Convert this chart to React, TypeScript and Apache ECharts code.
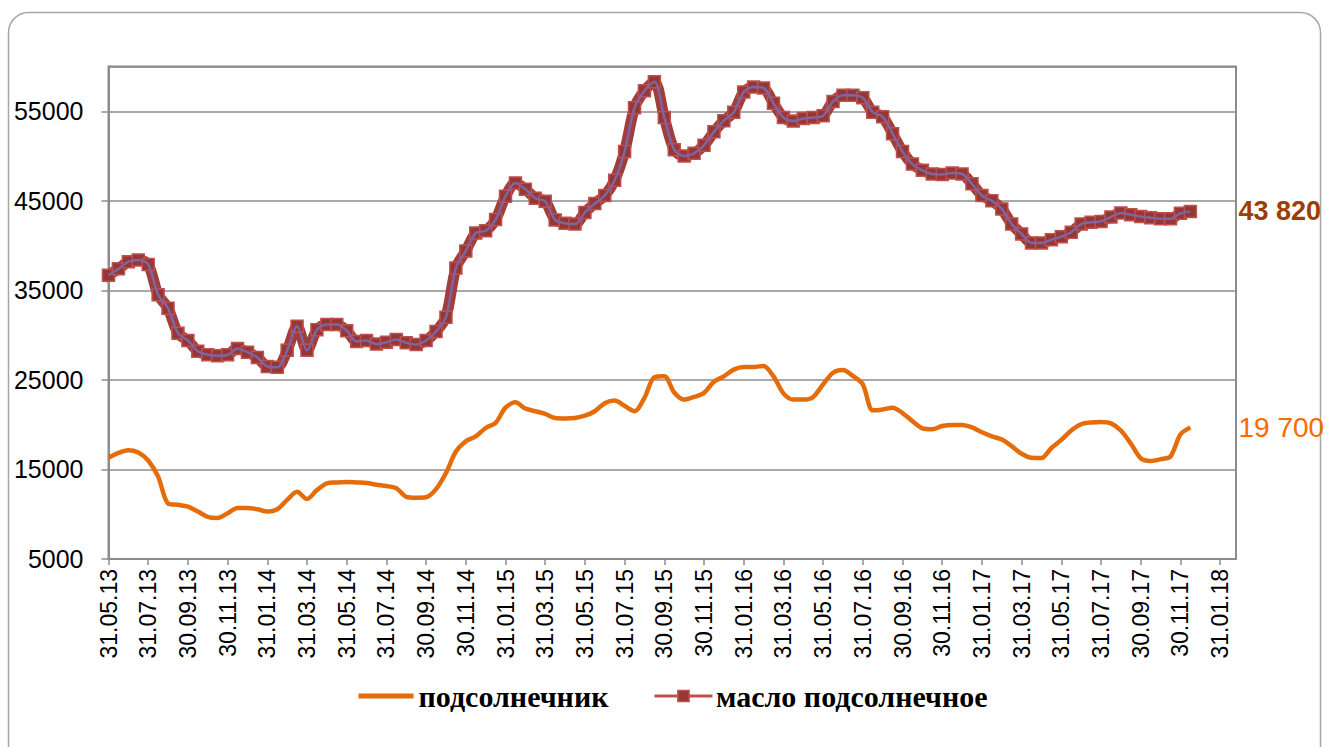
import React, { useEffect, useRef } from 'react';
import * as echarts from 'echarts';

// Tick labels of the date axis (every 2 months starting 31.05.13)
const tickLabels = [
  '31.05.13', '31.07.13', '30.09.13', '30.11.13', '31.01.14', '31.03.14', '31.05.14', '31.07.14',
  '30.09.14', '30.11.14', '31.01.15', '31.03.15', '31.05.15', '31.07.15', '30.09.15', '30.11.15',
  '31.01.16', '31.03.16', '31.05.16', '31.07.16', '30.09.16', '30.11.16', '31.01.17', '31.03.17',
  '31.05.17', '31.07.17', '30.09.17', '30.11.17', '31.01.18',
];

const seedName = 'подсолнечник';
const oilName = 'масло подсолнечное';

// Semi-monthly observations from 31.05.13
const seedValues = [
  16300, 16850, 17150, 16900, 16000, 14200, 11200, 11050, 10850, 10300,
  9700, 9580, 10100, 10700, 10700, 10550, 10300, 10550, 11600, 12500,
  11700, 12700, 13450, 13550, 13600, 13550, 13490, 13300, 13150, 12900,
  11950, 11850, 11900, 12800, 14600, 17000, 18150, 18700, 19630, 20200,
  21900, 22500, 21800, 21500, 21200, 20750, 20700, 20750, 21000, 21500,
  22400, 22700, 22100, 21500, 23000, 25300, 25400, 23600, 22800, 23100,
  23550, 24800, 25400, 26150, 26450, 26450, 26560, 25400, 23500, 22800,
  22800, 23100, 24500, 25800, 26100, 25450, 24500, 21600, 21700, 21900,
  21300, 20400, 19600, 19500, 19850, 19970, 19970, 19700, 19150, 18700,
  18350, 17600, 16750, 16300, 16280, 17400, 18300, 19350, 20050, 20250,
  20300, 20150, 19350, 17900, 16250, 15950, 16150, 16450, 18900, 19700,
];

const oilValues = [
  36700, 37400, 38200, 38400, 37900, 34500, 33000, 30200, 29400, 28200,
  27800, 27700, 27800, 28500, 28100, 27500, 26500, 26400, 28300, 31000,
  28300, 30600, 31200, 31200, 30500, 29300, 29400, 29000, 29200, 29500,
  29150, 28950, 29400, 30400, 32000, 37500, 39400, 41400, 41650, 42900,
  45500, 47000, 46300, 45300, 44950, 42870, 42500, 42400, 43700, 44700,
  45600, 47300, 50500, 55400, 57300, 58300, 54300, 50700, 50000, 50300,
  51200, 52700, 53950, 54900, 57150, 57700, 57600, 55900, 54300, 53900,
  54200, 54300, 54500, 56100, 56800, 56800, 56500, 54900, 54400, 52500,
  50500, 49100, 48400, 48000, 47950, 48100, 48000, 46900, 45600, 45000,
  44100, 42400, 41300, 40300, 40300, 40650, 41000, 41500, 42400, 42600,
  42700, 43200, 43650, 43450, 43250, 43100, 43000, 43000, 43600, 43820,
];

const MONTHS_PER_POINT = 0.5;
const MONTHS_PER_TICK = 2;
const X_MAX = 56.8;

const fmtThousands = (v: number) => String(v).replace(/\B(?=(\d{3})+(?!\d))/g, ' ');

export default function App() {
  const ref = useRef<HTMLDivElement>(null);

  useEffect(() => {
    if (!ref.current) return;
    const chart = echarts.init(ref.current, null, { renderer: 'svg' });
    const toPoints = (arr: number[]) => arr.map((v, i) => [i * MONTHS_PER_POINT, v]);
    const tickVals = tickLabels.map((_, i) => i * MONTHS_PER_TICK);
    const lastSeed = seedValues[seedValues.length - 1];
    const lastOil = oilValues[oilValues.length - 1];
    const sans = 'Liberation Sans, Arial, sans-serif';

    chart.setOption({
      animation: false,
      backgroundColor: '#ffffff',
      textStyle: { fontFamily: sans },
      graphic: [
        {
          type: 'rect',
          z: -10,
          silent: true,
          shape: { x: 8.5, y: 12.5, width: 1312, height: 800, r: 20 },
          style: { fill: 'none', stroke: '#a6a6a6', lineWidth: 1.5 },
        },
      ],
      grid: {
        left: 108.5,
        right: 89,
        top: 66.5,
        bottom: 188,
        show: true,
        borderColor: '#8c8c8c',
        borderWidth: 2,
        backgroundColor: 'transparent',
        outerBoundsMode: 'none',
      },
      legend: {
        left: 351,
        top: 676,
        padding: 5,
        itemWidth: 55,
        itemHeight: 14,
        itemGap: 46,
        textStyle: {
          fontFamily: 'Liberation Serif, Times New Roman, serif',
          fontWeight: 'bold',
          fontSize: 30,
          color: '#000000',
        },
        data: [
          {
            name: seedName,
            itemStyle: { opacity: 0 },
            lineStyle: { color: '#E46C0A', width: 5, opacity: 1 },
          },
          {
            name: oilName,
            lineStyle: { color: '#C0504D', width: 3, opacity: 1 },
            itemStyle: { color: '#953735', borderColor: '#C0504D', borderWidth: 1.5 },
          },
        ],
      },
      xAxis: {
        type: 'value',
        min: 0,
        max: X_MAX,
        splitLine: { show: false },
        axisLine: { show: true, lineStyle: { color: '#8c8c8c', width: 2 } },
        axisTick: {
          show: true,
          customValues: tickVals,
          length: 6,
          lineStyle: { color: '#8c8c8c', width: 1.5 },
        },
        axisLabel: {
          customValues: tickVals,
          rotate: 90,
          margin: 10,
          fontSize: 23,
          color: '#000000',
          fontFamily: sans,
          formatter: (v: number) => tickLabels[Math.round(v / MONTHS_PER_TICK)] ?? '',
        },
      },
      yAxis: {
        type: 'value',
        min: 5000,
        max: 60000,
        interval: 10000,
        axisLine: { show: true, lineStyle: { color: '#8c8c8c', width: 2 } },
        axisTick: { show: true, length: 7, lineStyle: { color: '#8c8c8c', width: 1.5 } },
        splitLine: { show: true, lineStyle: { color: '#8c8c8c', width: 1.5 } },
        axisLabel: {
          showMaxLabel: false,
          margin: 25,
          fontSize: 25,
          color: '#000000',
          fontFamily: sans,
          formatter: (v: number) => String(v),
        },
      },
      series: [
        {
          name: seedName,
          type: 'line',
          data: toPoints(seedValues),
          symbol: 'none',
          smooth: 0.3,
          z: 3,
          lineStyle: { color: '#E46C0A', width: 4.5 },
          itemStyle: { color: '#E46C0A' },
          markPoint: {
            symbol: 'circle',
            symbolSize: 1,
            itemStyle: { color: 'rgba(0,0,0,0)' },
            label: {
              show: true,
              position: 'right',
              distance: 2,
              fontSize: 28,
              color: '#FF6A00',
              fontFamily: sans,
              formatter: () => fmtThousands(lastSeed),
            },
            data: [{ coord: [X_MAX, lastSeed] }],
          },
        },
        {
          name: oilName,
          type: 'line',
          data: toPoints(oilValues),
          symbol: 'rect',
          symbolSize: 12,
          showAllSymbol: true,
          smooth: 0.3,
          z: 4,
          lineStyle: { color: '#A03E3C', width: 11, opacity: 1, join: 'round', cap: 'square' },
          itemStyle: { color: '#953735', borderColor: '#C0504D', borderWidth: 1.5 },
          markPoint: {
            symbol: 'circle',
            symbolSize: 1,
            itemStyle: { color: 'rgba(0,0,0,0)' },
            label: {
              show: true,
              position: 'right',
              distance: 2,
              fontSize: 27,
              fontWeight: 'bold',
              color: '#9E3D00',
              fontFamily: sans,
              formatter: () => fmtThousands(lastOil),
            },
            data: [{ coord: [X_MAX, lastOil] }],
          },
        },
        {
          name: oilName + ' (линия)',
          type: 'line',
          data: toPoints(oilValues),
          symbol: 'none',
          smooth: 0.3,
          silent: true,
          z: 6,
          lineStyle: { color: '#8064A2', width: 2.5 },
        },
      ],
    });

    return () => chart.dispose();
  }, []);

  return (
    <div
      ref={ref}
      style={{ position: 'absolute', left: 0, top: 0, width: 1325, height: 747 }}
    />
  );
}
